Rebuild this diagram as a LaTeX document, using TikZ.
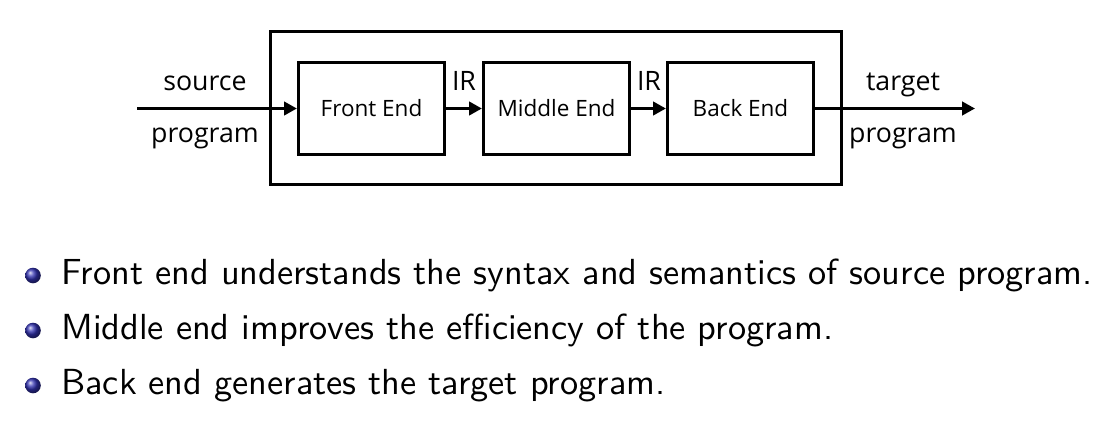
\documentclass[tikz,border=0pt]{standalone}
\usepackage{fontspec}
\newfontfamily\diagfont{Open Sans}
\newfontfamily\listfont{lmsans10-regular.otf}
\usetikzlibrary{arrows.meta, positioning}

\definecolor{ballblue}{rgb}{0.2,0.2,0.7}

\tikzset{
	stage/.style={draw, line width=2.2pt, minimum width=3.65cm, minimum height=2.3cm,
		font=\diagfont\fontsize{16}{19}\selectfont},
	flow/.style={line width=2.2pt, -{Triangle[length=0.32cm, width=0.33cm]}},
	lbl/.style={font=\diagfont\fontsize{19}{23}\selectfont, anchor=base, inner sep=0pt},
	item/.style={font=\listfont\fontsize{25.8}{30}\selectfont, anchor=base west, inner sep=0pt},
}

\begin{document}
\begin{tikzpicture}[x=0.025cm, y=-0.025cm]
\useasboundingbox (0, 0) rectangle (1109, 420);

% the three stages inside the compiler
\node[stage] (front) at (371.5, 108.5) {Front End};
\node[stage] (middle) at (556.5, 108.5) {Middle End};
\node[stage] (back) at (740.5, 108.5) {Back End};
\node[draw, line width=2.2pt, minimum width=14.275cm, minimum height=3.825cm]
	(compiler) at (556, 108) {};

\coordinate (in) at (137, 108.5);
\coordinate (out) at (975, 108.5);

\draw[flow] (in) -- (front);
\draw[flow] (front) -- (middle);
\draw[flow] (middle) -- (back);
\draw[flow] (back) -- (out);

\node[lbl] (src) at (205, 90) {source};
\node[lbl] (srcprog) at (205, 142) {program};
\node[lbl] (tgt) at (903, 90) {target};
\node[lbl] (tgtprog) at (903, 142) {program};
\node[lbl] (irone) at (464, 91) {IR};
\node[lbl] (irtwo) at (649, 91) {IR};

% the list below
\shade[ball color=ballblue] (33, 275.5) circle (7.8);
\shade[ball color=ballblue] (33, 330.5) circle (7.8);
\shade[ball color=ballblue] (33, 385.5) circle (7.8);

\node[item] (feitem) at (61, 284) {Front end understands the syntax and semantics of source program.};
\node[item] (meitem) at (61, 339) {Middle end improves the efficiency of the program.};
\node[item] (beitem) at (61, 394) {Back end generates the target program.};

\end{tikzpicture}
\end{document}
